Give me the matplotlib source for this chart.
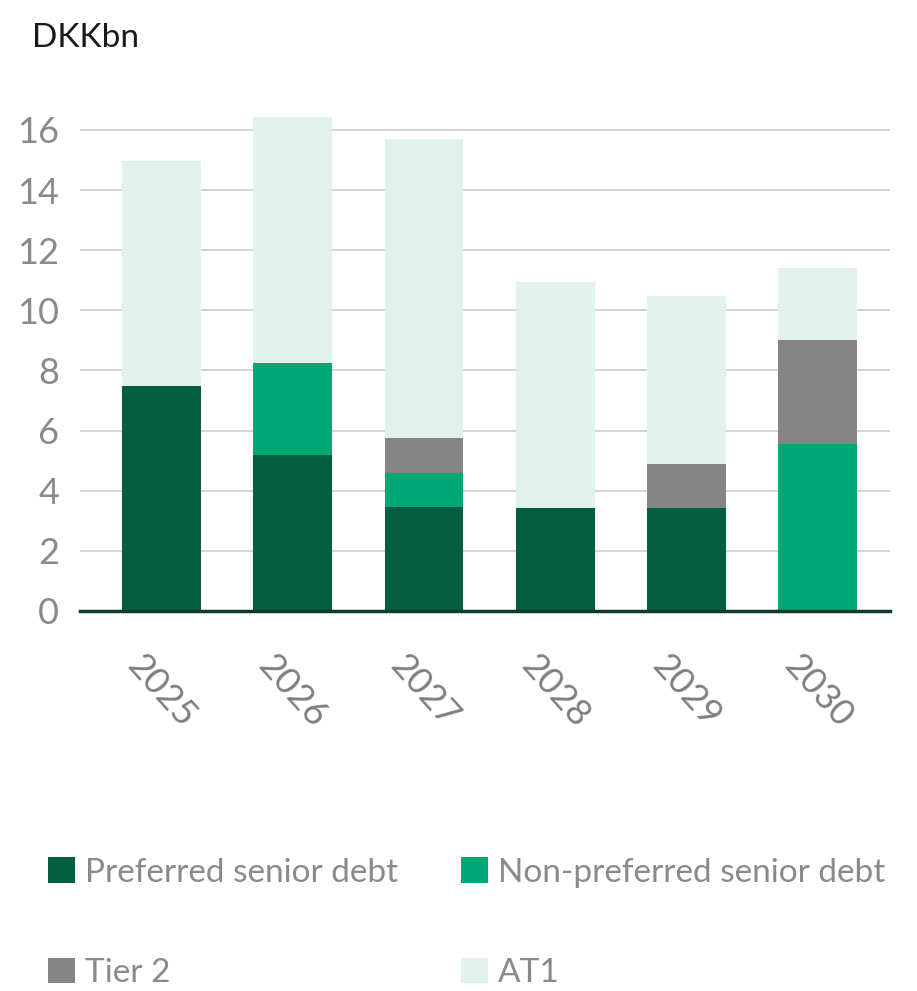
import matplotlib.pyplot as plt
import numpy as np

years = ['2025', '2026', '2027', '2028', '2029', '2030']
preferred = [7.48, 5.2, 3.45, 3.42, 3.42, 0.0]
non_preferred = [0.0, 3.05, 1.15, 0.0, 0.0, 5.55]
tier2 = [0.0, 0.0, 1.17, 0.0, 1.47, 3.47]
at1 = [7.5, 8.18, 9.93, 7.52, 5.59, 2.38]

series_names = ['Preferred senior debt', 'Non-preferred senior debt', 'Tier 2', 'AT1']
colors = ['#025E3E', '#00A876', '#858585', '#E1F2EC']

plt.rcParams['font.family'] = ['Lato', 'DejaVu Sans']

fig = plt.figure(figsize=(9.17, 9.91), dpi=100)
ax = fig.add_axes([0.0872, 0.3835, 0.8833, 0.5005])

x = np.arange(len(years))
bottom = np.zeros(len(years))
handles = []
for vals, name, col in zip([preferred, non_preferred, tier2, at1], series_names, colors):
    b = ax.bar(x, vals, width=0.6, bottom=bottom, color=col, label=name, zorder=2)
    handles.append(b)
    bottom += np.array(vals)

ax.set_ylim(0, 16.5)
ax.set_xlim(-0.62, 5.55)
ax.set_yticks(range(0, 17, 2))
ax.yaxis.grid(True, color='#CCCCCC', linewidth=1.2, zorder=0)
ax.set_axisbelow(True)
for s in ['top', 'right', 'left']:
    ax.spines[s].set_visible(False)
ax.spines['bottom'].set_color('#0B3B2E')
ax.spines['bottom'].set_linewidth(2.5)
ax.spines['bottom'].set_zorder(3)

ax.tick_params(axis='both', length=0)
ax.tick_params(axis='y', pad=15, labelsize=26, labelcolor='#8A8A8A')
ax.set_xticks(x)
ax.set_xticklabels(years, rotation=-48, ha='center', va='top', fontsize=26,
                   color='#7F7F7F')
ax.tick_params(axis='x', pad=27)

fig.text(0.035, 0.962, 'DKKbn', fontsize=24, color='#1A1A1A', va='center')

# reorder so the legend reads row by row
order = [0, 2, 1, 3]
leg = fig.legend(handles=[handles[i] for i in order],
                 labels=[series_names[i] for i in order],
                 ncol=2, loc='upper left',
                 bbox_to_anchor=(0.02, 0.165), frameon=False, fontsize=24,
                 handlelength=0.8, handleheight=0.8, handletextpad=0.3,
                 labelspacing=2.1, columnspacing=1.9)
for t in leg.get_texts():
    t.set_color('#8A8A8A')

fig.savefig('out.png', dpi=100)
